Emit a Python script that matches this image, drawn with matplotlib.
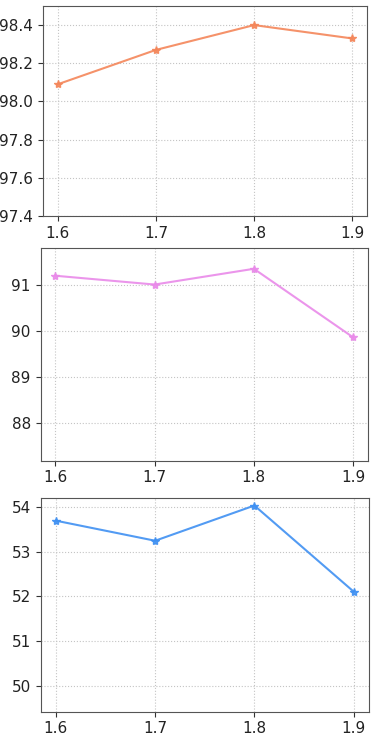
import matplotlib
matplotlib.use("Agg")
import matplotlib.pyplot as plt

x_vals = [1.6, 1.7, 1.8, 1.9]
x_labels = ["1.6", "1.7", "1.8", "1.9"]

top_vals = [98.09, 98.27, 98.40, 98.33]
mid_vals = [91.19, 91.00, 91.34, 89.86]
bot_vals = [53.70, 53.25, 54.04, 52.11]

top_ticks = [97.4, 97.6, 97.8, 98.0, 98.2, 98.4]
mid_ticks = [88, 89, 90, 91]
bot_ticks = [50, 51, 52, 53, 54]

plt.rcParams['font.size'] = 11

fig = plt.figure(figsize=(3.74, 7.38), dpi=100)

# axes boxes in pixel coords (left, top, right, bottom)
boxes = [(43, 6, 367, 216), (40.5, 247.5, 368, 460.5), (41, 497.5, 368.5, 711.5)]
W, H = 374, 738

panels = [
    (top_vals, '#f4865a', (97.4, 98.5), top_ticks, '{:.1f}'),
    (mid_vals, '#e98ae9', (87.2, 91.8), mid_ticks, '{:.0f}'),
    (bot_vals, '#3f90f2', (49.42, 54.22), bot_ticks, '{:.0f}'),
]

for (l, t, r, b), (vals, color, ylim, yticks, fmt) in zip(boxes, panels):
    ax = fig.add_axes([l / W, 1 - b / H, (r - l) / W, (b - t) / H])
    ax.plot(x_vals, vals, marker='*', color=color, linewidth=1.5,
            markersize=6, alpha=0.9)
    ax.set_ylim(*ylim)
    ax.set_xticks(x_vals)
    ax.set_xticklabels(x_labels)
    ax.set_yticks(yticks)
    ax.set_yticklabels([fmt.format(v) for v in yticks])
    ax.grid(True, linestyle=':', color='#c4c4c4', linewidth=0.8)
    ax.set_axisbelow(True)
    for sp in ax.spines.values():
        sp.set_color('#555555')
    ax.tick_params(colors='#333333', labelcolor='#222222')

plt.savefig('out.png', dpi=100)
